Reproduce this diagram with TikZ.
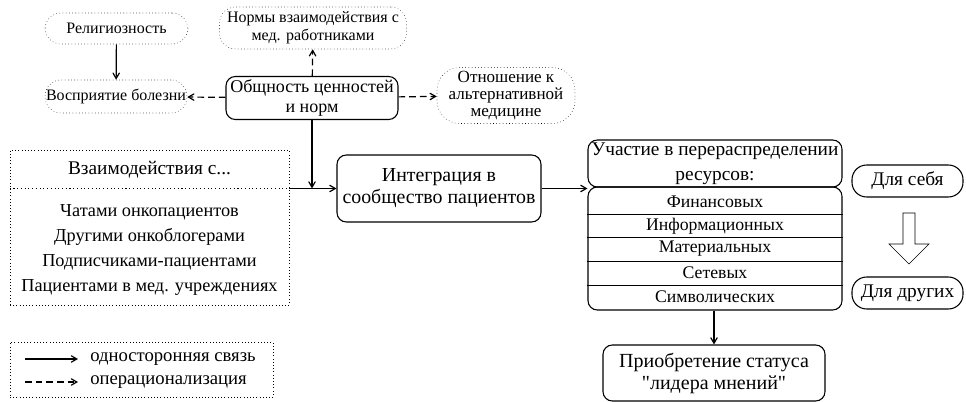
\documentclass[tikz,border=0pt]{standalone}
\usepackage{fontspec}
\setmainfont{LiberationSerif}[Extension=.ttf,UprightFont=*-Regular,BoldFont=*-Bold,ItalicFont=*-Italic,BoldItalicFont=*-BoldItalic,Ligatures=TeXOff]
\usetikzlibrary{arrows}
\newcommand{\fs}[2]{\fontsize{#1}{#2}\selectfont}

\begin{document}
\begin{tikzpicture}[x=0.75pt,y=-0.75pt]

    \tikzset{wh/.style 2 args = {minimum width=#1*0.75pt,minimum height=#2*0.75pt}}
    \tikzset{box/.style = {shape=rectangle,draw,line width=0.8pt,rounded corners=7pt,align=center,inner sep=0pt}}
    \tikzset{dbox/.style = {shape=rectangle,draw,dotted,thin,rounded corners=12pt,align=center,inner sep=0pt,font=\fs{12}{13.5}}}
    \tikzset{pill/.style = {box,rounded corners=11pt,font=\fs{14.5}{16}}}
    \tikzset{item/.style = {inner sep=0pt,font=\fs{13.7}{15}}}
    \tikzset{edge/.style = {->,> = angle 60,line width=0.9pt}}
    \tikzset{dedge/.style = {edge,dash pattern=on 5pt off 3pt}}
    \useasboundingbox (0,0) rectangle (966,402);

    % values and norms
    \node[dbox,wh={143}{31}] (relig) at (116.5,28.5) {Религиозность};
    \node[dbox,wh={142}{33}] (vospr) at (116,96.5) {Восприятие болезни};
    \node[dbox,wh={187}{42}] (normy) at (313,28) {Нормы взаимодействия с\\мед. работниками};
    \node[box,wh={172}{43},font=\fs{13.5}{15}] (obsch) at (312,98) {Общность ценностей\\и норм};
    \node[dbox,wh={138}{56},rounded corners=17pt,font=\fs{12.8}{12.4}] (otnosh) at (506,95.5) {Отношение к\\альтернативной\\медицине};

    % interactions
    \node[draw,dotted,thin,wh={279}{155}] (inter) at (149.5,227.5) {};
    \node[item,font=\fs{14.5}{16}] (vzhead) at (149.5,170) {Взаимодействия с...};
    \node[item] (chat) at (149.5,212) {Чатами онкопациентов};
    \node[item] (blog) at (149.5,237) {Другими онкоблогерами};
    \node[item] (podp) at (149.5,262) {Подписчиками-пациентами};
    \node[item] (pac) at (149.5,287) {Пациентами в мед. учреждениях};

    \node[box,wh={204}{67},font=\fs{14.9}{16.5}] (integ) at (439,188.5) {Интеграция в\\сообщество пациентов};

    % resources
    \node[box,wh={254}{47},font=\fs{14.5}{18.5}] (uch) at (715,163.5) {Участие в перераспределении\\ресурсов:};
    \node[box,wh={254}{123}] (res) at (715,248.5) {};
    \node[item,wh={254}{22},font=\fs{13.3}{15}] (fin) at (715,202) {Финансовых};
    \node[item,wh={254}{22},font=\fs{13.3}{15}] (inf) at (715,226) {Информационных};
    \node[item,wh={254}{22},font=\fs{13.3}{15}] (mat) at (715,249) {Материальных};
    \node[item,wh={254}{22},font=\fs{13.3}{15}] (set) at (715,272.5) {Сетевых};
    \node[item,wh={254}{22},font=\fs{13.3}{15}] (sym) at (715,296.5) {Символических};
    \node[box,wh={222}{56},font=\fs{15}{16.5}] (lider) at (714,373) {Приобретение статуса\\"лидера мнений"};

    \node[pill,wh={111}{32}] (sebe) at (907.5,181) {Для себя};
    \node[pill,wh={111}{32}] (drug) at (907.5,293) {Для других};

    % legend
    \node[draw,dotted,thin,wh={263}{55}] (legend) at (141.5,369.5) {};
    \coordinate (l1a) at (25,359);
    \coordinate (l1b) at (78,359);
    \coordinate (l2a) at (25,382);
    \coordinate (l2b) at (78,382);
    \node[item,anchor=west,font=\fs{14}{15}] (l1) at (90,359) {односторонняя связь};
    \node[item,anchor=west,font=\fs{14}{15}] (l2) at (90,382) {операционализация};

    %edges
    \draw[edge] (relig) to (vospr);
    \draw[dedge] (obsch) to (vospr);
    \draw[dedge] (obsch) to (normy);
    \draw[dedge] (obsch) to (otnosh);
    \draw[edge] (obsch.south) to (obsch.south |- integ.west);
    \draw[line width=0.8pt,dotted] (inter.west |- integ.west) -- (inter.east |- integ.west);
    \draw[edge] (inter.east |- integ.west) to (integ.west);
    \draw[edge] (integ.east) to (integ.east -| res.west);
    \foreach \r in {inf,mat,set,sym}
        \draw[thin] (res.west |- \r.north) -- (res.east |- \r.north);
    \draw[edge] (res.south -| lider.north) to (lider.north);
    \draw[thin] (903,213) -- (915,213) -- (915,244) -- (929,244) -- (909,264)
        -- (889,244) -- (903,244) -- cycle;
    \draw[edge] (l1a) to (l1b);
    \draw[dedge] (l2a) to (l2b);
\end{tikzpicture}
\end{document}
